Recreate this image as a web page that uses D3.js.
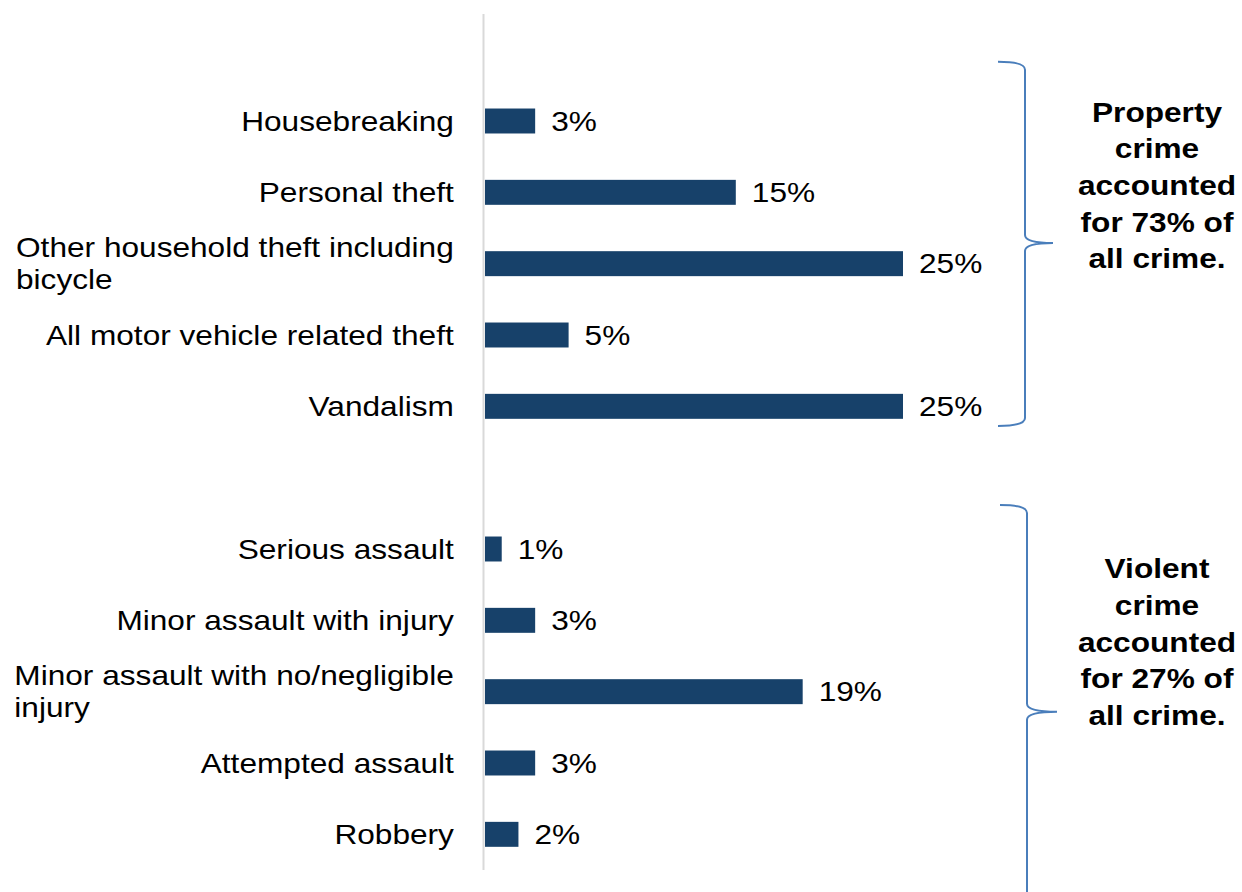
<!DOCTYPE html>
<html>
<head>
<meta charset="utf-8">
<script src="https://cdn.jsdelivr.net/npm/d3@7"></script>
<style>
  html, body { margin: 0; padding: 0; background: #fff; }
  svg { display: block; font-family: "Liberation Sans", Arial, sans-serif; }
</style>
</head>
<body>
<svg id="chart" width="1242" height="892"></svg>
<script>
// Share of all crime by crime type (%)
const propertyCategories = [
  "Housebreaking",
  "Personal theft",
  "Other household theft including bicycle",
  "All motor vehicle related theft",
  "Vandalism"
];
const propertyValues = [3, 15, 25, 5, 25];

const violentCategories = [
  "Serious assault",
  "Minor assault with injury",
  "Minor assault with no/negligible injury",
  "Attempted assault",
  "Robbery"
];
const violentValues = [1, 3, 19, 3, 2];

const propertyNote = ["Property", "crime", "accounted", "for 73% of", "all crime."];
const violentNote = ["Violent", "crime", "accounted", "for 27% of", "all crime."];

// Rows: a blank slot above each group keeps the two groups apart
const rows = [];
rows.push({ key: "gap-0", label: null, value: null });
propertyCategories.forEach((c, i) => rows.push({ key: "p" + i, label: c, value: propertyValues[i] }));
rows.push({ key: "gap-1", label: null, value: null });
violentCategories.forEach((c, i) => rows.push({ key: "v" + i, label: c, value: violentValues[i] }));

const svg = d3.select("#chart");
const FONT = 28, SX = 1.13;          // label type size and its horizontal stretch
const BAR = "#17416a", BRACE = "#4a7ebb";

const y = d3.scaleBand()
  .domain(rows.map(r => r.key))
  .range([14, 870])
  .paddingInner(0.65)
  .paddingOuter(0.325);

const x = d3.scaleLinear().domain([0, 25]).range([485, 903]);

// Category axis line
svg.append("line")
  .attr("x1", 483.5).attr("x2", 483.5)
  .attr("y1", y.range()[0]).attr("y2", y.range()[1])
  .attr("stroke", "#d9d9d9").attr("stroke-width", 2);

const data = rows.filter(r => r.value !== null);

// Bars
svg.append("g").selectAll("rect")
  .data(data)
  .join("rect")
  .attr("x", x(0))
  .attr("y", d => y(d.key))
  .attr("width", d => x(d.value) - x(0))
  .attr("height", y.bandwidth())
  .attr("fill", BAR);

function stretchedText(g, px, py, str, anchor, weight) {
  return g.append("text")
    .attr("transform", `translate(${px},${py}) scale(${SX},1)`)
    .attr("text-anchor", anchor)
    .attr("font-size", FONT)
    .attr("font-weight", weight || "normal")
    .attr("fill", "#000")
    .text(str);
}

// Value labels
const valG = svg.append("g");
data.forEach(d => {
  stretchedText(valG, x(d.value) + 16, y(d.key) + y.bandwidth() / 2 + 0.35 * FONT, d.value + "%", "start");
});

// Category labels, wrapped to a maximum width and left-aligned within a right-aligned block
const labG = svg.append("g");
const labelRight = 454, maxWidth = 445, lineGap = 32;
const measure = svg.append("text").attr("font-size", FONT).attr("visibility", "hidden");
function textWidth(s) { measure.text(s); return measure.node().getComputedTextLength() * SX; }

data.forEach(d => {
  const words = d.label.split(" ");
  const lines = [];
  let cur = "";
  words.forEach(w => {
    const test = cur ? cur + " " + w : w;
    if (cur && textWidth(test) > maxWidth) { lines.push(cur); cur = w; }
    else cur = test;
  });
  lines.push(cur);
  const blockW = d3.max(lines, textWidth);
  const cy = y(d.key) + y.bandwidth() / 2;
  lines.forEach((ln, i) => {
    const off = (i - (lines.length - 1) / 2) * lineGap;
    stretchedText(labG, labelRight - blockW, cy + off + 0.35 * FONT, ln, "start");
  });
});
measure.remove();

// Group braces
function brace(x0, spine, tip, top, mid, bottom) {
  return `M${x0},${top} Q${spine},${top} ${spine},${top + 8} L${spine},${mid - 8} ` +
    `Q${spine},${mid} ${tip},${mid} Q${spine},${mid} ${spine},${mid + 8} ` +
    `L${spine},${bottom - 8} Q${spine},${bottom} ${x0},${bottom}`;
}
svg.append("path")
  .attr("d", brace(998, 1025, 1053, 61.7, 243, 426))
  .attr("fill", "none").attr("stroke", BRACE).attr("stroke-width", 2);
svg.append("path")
  .attr("d", brace(1000, 1027, 1057, 505, 711.7, 918))
  .attr("fill", "none").attr("stroke", BRACE).attr("stroke-width", 2);

// Group notes
const noteG = svg.append("g");
propertyNote.forEach((ln, i) => stretchedText(noteG, 1157, 121.7 + i * 36.65, ln, "middle", "bold"));
violentNote.forEach((ln, i) => stretchedText(noteG, 1157, 578.3 + i * 36.65, ln, "middle", "bold"));
</script>
</body>
</html>
